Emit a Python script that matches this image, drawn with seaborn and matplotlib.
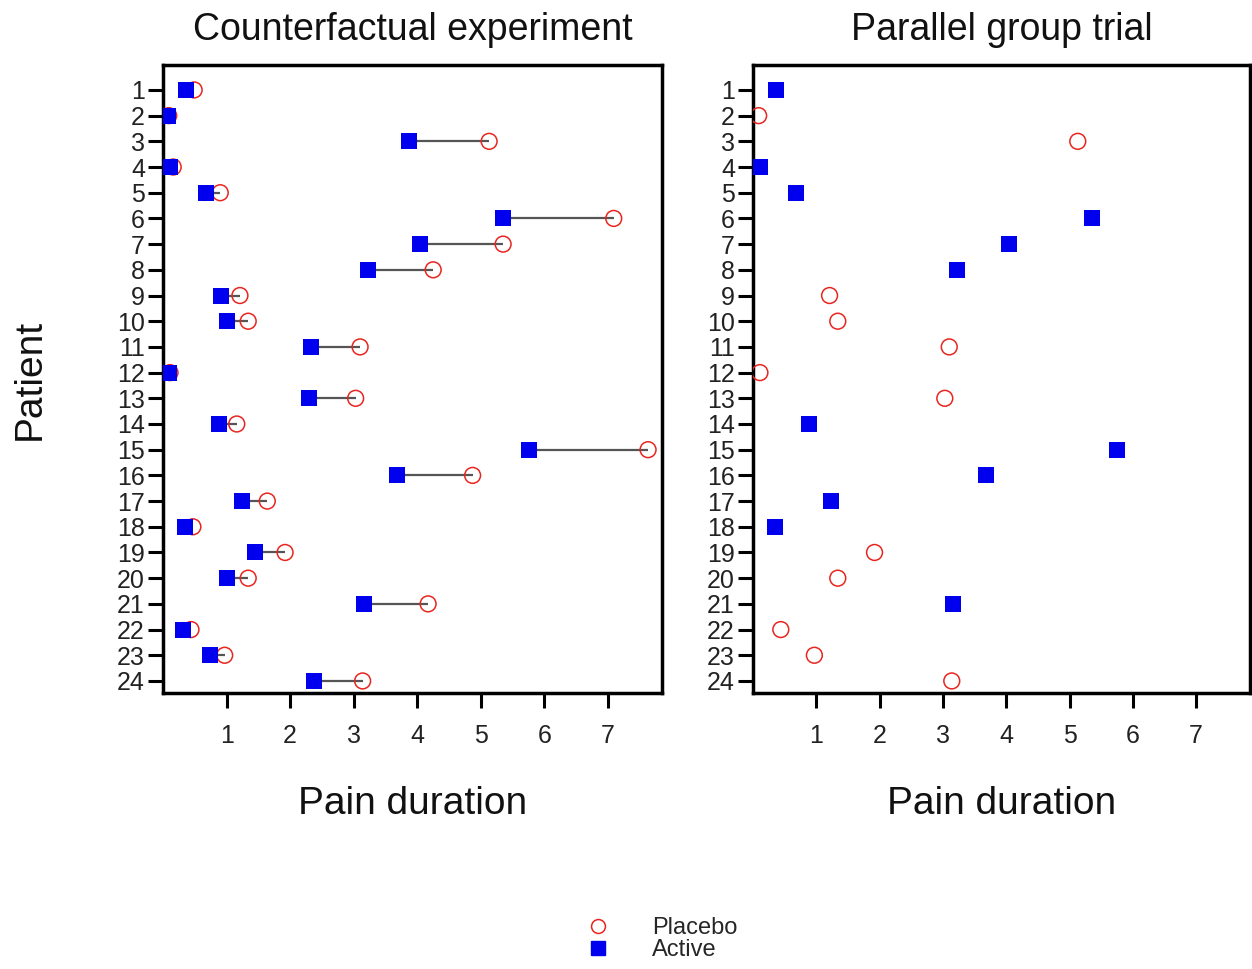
import matplotlib
matplotlib.use("Agg")
import matplotlib.pyplot as plt
import seaborn as sns
import pandas as pd
from matplotlib.lines import Line2D

patients = list(range(1, 25))
active = [0.36, 0.08, 3.87, 0.11, 0.68, 5.35, 4.04, 3.22, 0.91, 1.01, 2.33, 0.09,
          2.30, 0.88, 5.75, 3.68, 1.24, 0.35, 1.45, 1.01, 3.16, 0.31, 0.74, 2.37]
placebo = [0.49, 0.09, 5.13, 0.16, 0.90, 7.09, 5.35, 4.25, 1.21, 1.34, 3.10, 0.11,
           3.03, 1.16, 7.63, 4.87, 1.64, 0.47, 1.92, 1.34, 4.17, 0.44, 0.97, 3.14]
# treatment arm in parallel trial: A = active, P = placebo
parallel_arm = ["A", "P", "P", "A", "A", "A", "A", "A", "P", "P", "P", "P",
                "P", "A", "A", "A", "A", "A", "P", "P", "A", "P", "P", "P"]
x_ticks = [1, 2, 3, 4, 5, 6, 7]
titles = ["Counterfactual experiment", "Parallel group trial"]

sns.set_style("ticks")
plt.rcParams["font.family"] = ["Liberation Sans", "DejaVu Sans"]

df = pd.DataFrame({"patient": patients, "active": active, "placebo": placebo, "arm": parallel_arm})

fig = plt.figure(figsize=(12.52, 9.69), dpi=100)
ax1 = fig.add_axes([0.1302, 0.2848, 0.3986, 0.6481])
ax2 = fig.add_axes([0.6014, 0.2848, 0.3970, 0.6481])

red = "#e8251f"
blue = "#0000ee"
circ_kw = dict(marker="o", s=130, facecolor="none", edgecolor=red, linewidth=1.1, zorder=3)
sq_kw = dict(marker="s", s=140, color=blue, edgecolor=blue, linewidth=0, zorder=4)

# left: counterfactual
ax1.hlines(df["patient"], df["active"], df["placebo"], color="#555555", linewidth=1.6, zorder=2)
sns.scatterplot(data=df, x="placebo", y="patient", ax=ax1, legend=False, **circ_kw)
sns.scatterplot(data=df, x="active", y="patient", ax=ax1, legend=False, **sq_kw)

# right: parallel
dfp = df[df["arm"] == "P"]
dfa = df[df["arm"] == "A"]
sns.scatterplot(data=dfp, x="placebo", y="patient", ax=ax2, legend=False, **circ_kw)
sns.scatterplot(data=dfa, x="active", y="patient", ax=ax2, legend=False, **sq_kw)

for ax, t in zip([ax1, ax2], titles):
    ax.set_xlim(0, 7.85)
    ax.set_ylim(24.47, 0.03)
    ax.set_xticks(x_ticks)
    ax.set_xticklabels([str(v) for v in x_ticks])
    ax.set_yticks(patients)
    ax.set_yticklabels([str(p) for p in patients])
    ax.tick_params(axis="both", labelsize=18, width=2.2, length=11, color="black",
                   labelcolor="#222222")
    ax.tick_params(axis="x", pad=11)
    ax.tick_params(axis="y", pad=2)
    for sp in ax.spines.values():
        sp.set_visible(True)
        sp.set_linewidth(2.5)
        sp.set_color("black")
    ax.set_title(t, fontsize=27, pad=18, color="#111111")
    ax.set_xlabel("Pain duration", fontsize=28, labelpad=28, color="#111111")
    ax.set_ylabel("")

ax1.set_ylabel("Patient", fontsize=28, labelpad=50, color="#111111")

handles = [
    Line2D([], [], marker="o", linestyle="none", markersize=10, markerfacecolor="none",
           markeredgecolor=red, markeredgewidth=1.1, label="Placebo"),
    Line2D([], [], marker="s", linestyle="none", markersize=10, markerfacecolor=blue,
           markeredgecolor=blue, label="Active"),
]
fig.legend(handles=handles, loc="center", bbox_to_anchor=(0.524, 0.0305), frameon=False,
           fontsize=17, handletextpad=1.3, labelspacing=0.0, borderpad=0)

fig.savefig("out.png", dpi=100, facecolor="white")
